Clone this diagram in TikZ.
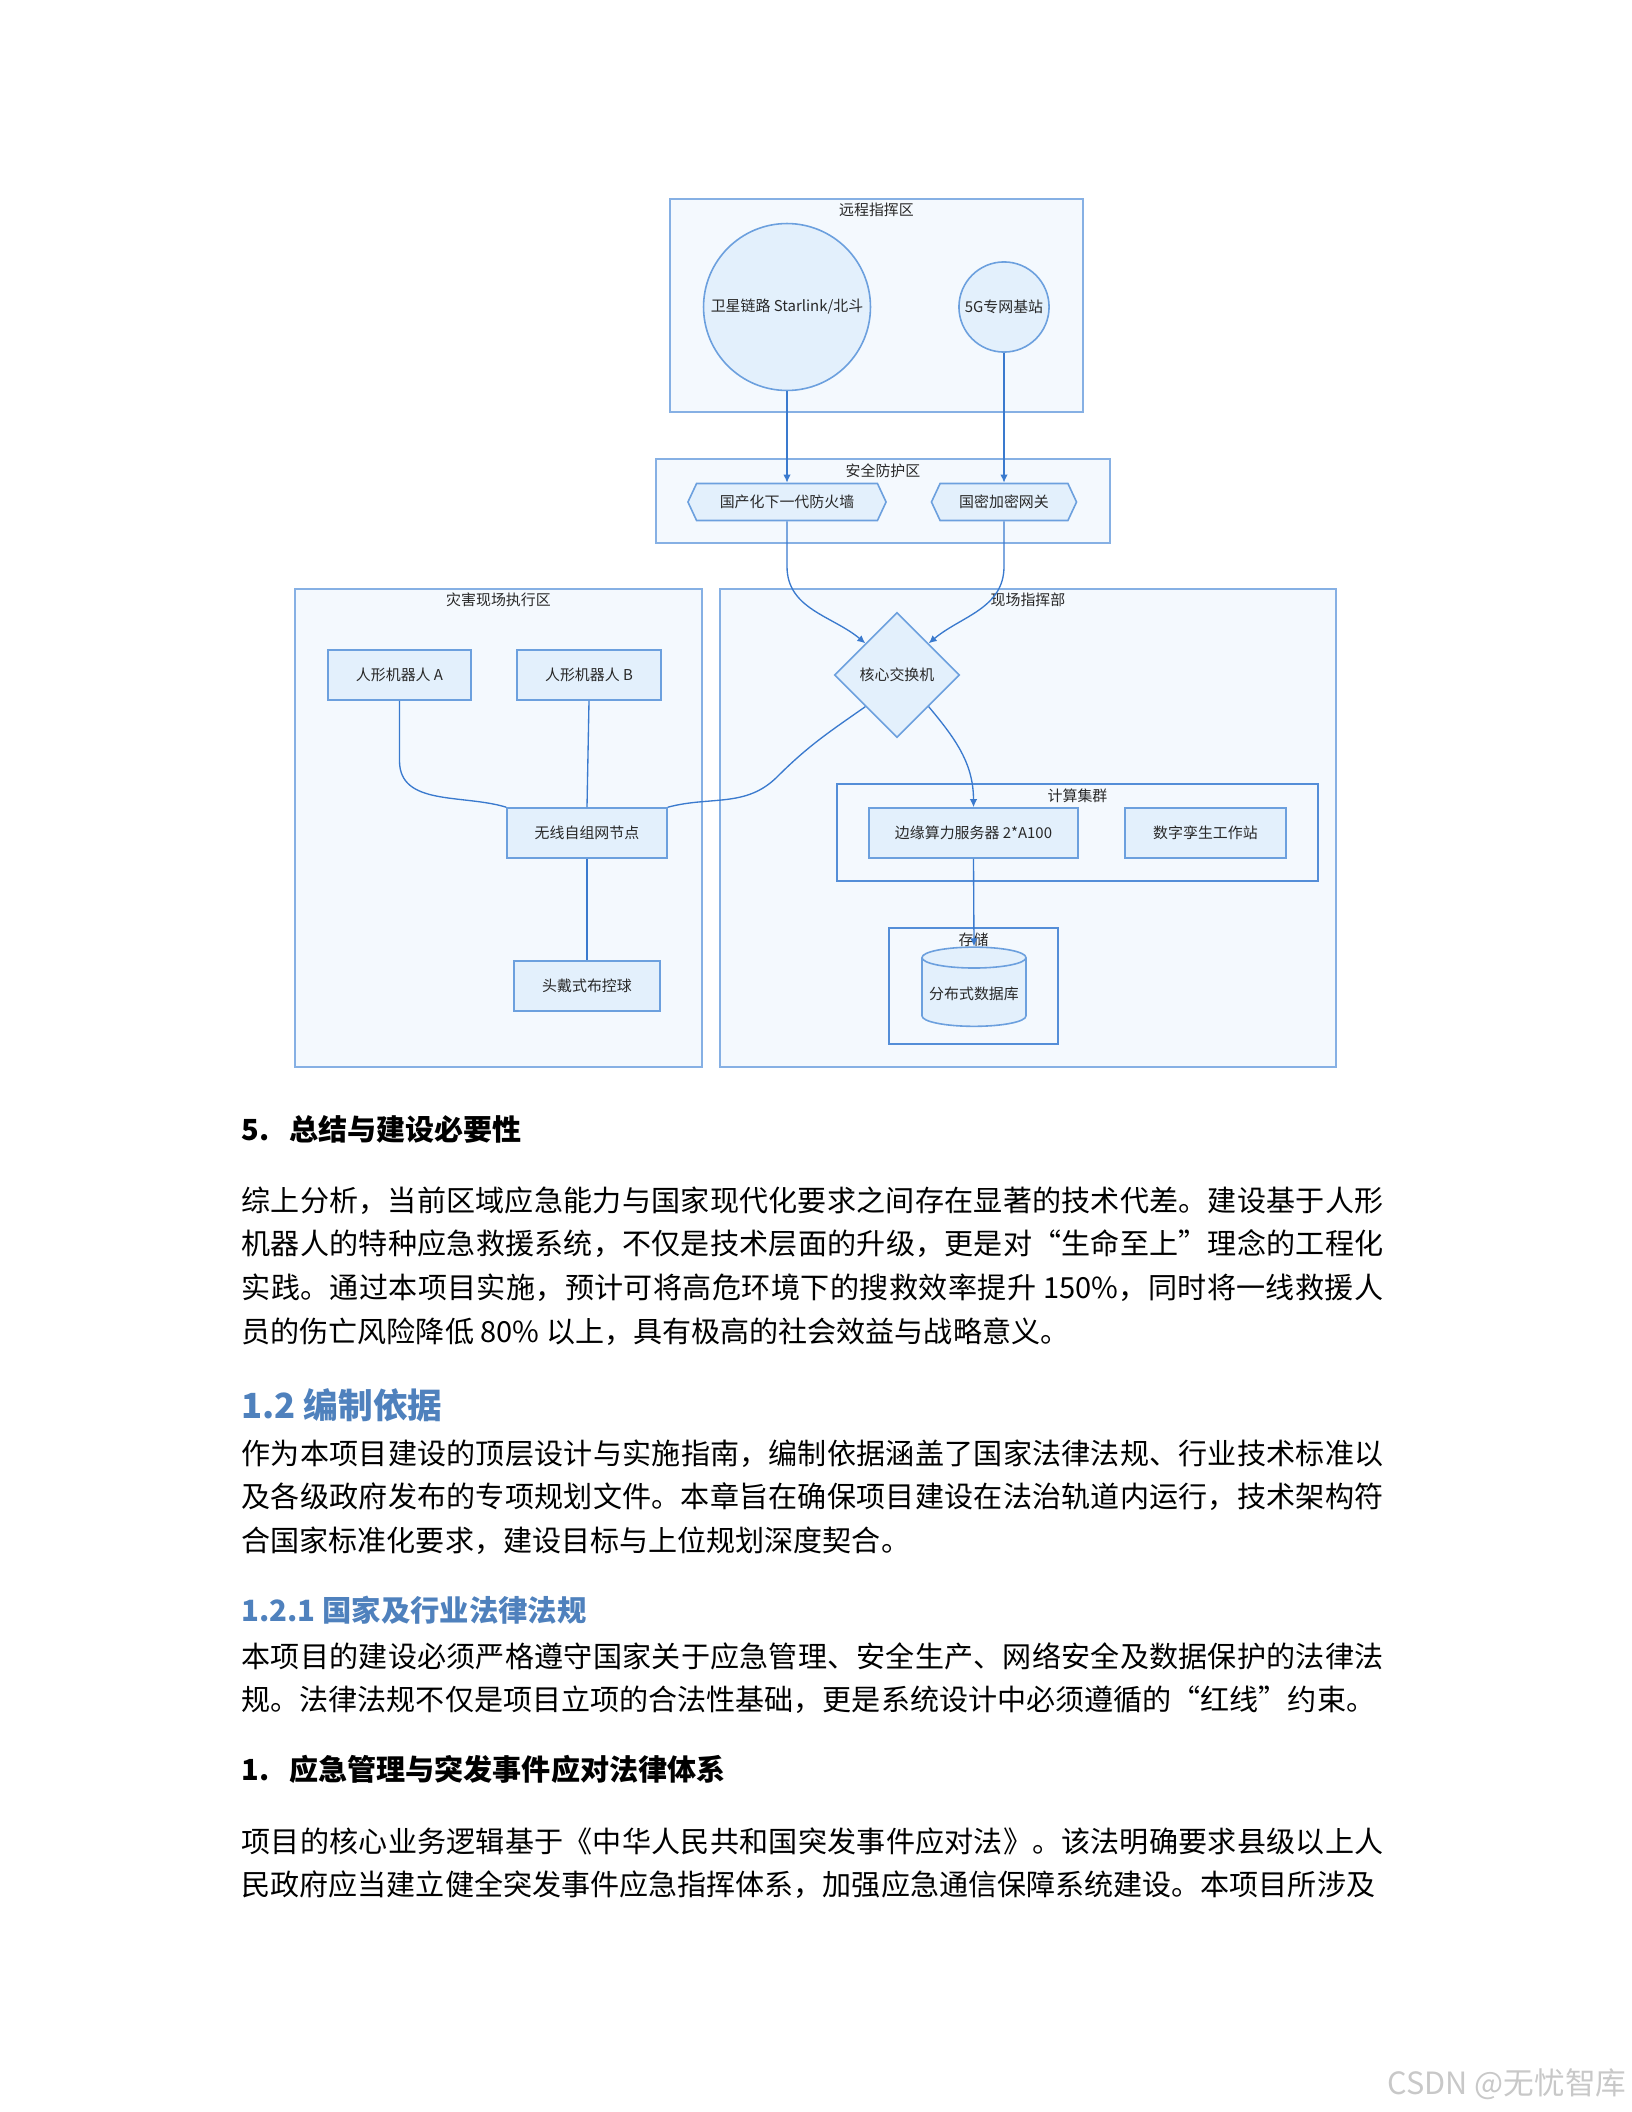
\documentclass[tikz,border=0pt]{standalone}
\usepackage{fontspec}
\setmainfont{Noto Sans CJK SC}
\usetikzlibrary{shapes.geometric,shapes.symbols,arrows.meta,fit}

\definecolor{zoneFill}{RGB}{244,249,254}
\definecolor{zoneLine}{RGB}{134,176,228}
\definecolor{subLine}{RGB}{84,142,216}
\definecolor{boxFill}{RGB}{227,240,252}
\definecolor{boxLine}{RGB}{108,160,222}
\definecolor{linkBlue}{RGB}{58,122,206}
\definecolor{inkGray}{RGB}{40,40,40}
\definecolor{headBlue}{RGB}{79,129,189}
\definecolor{markGray}{RGB}{200,200,200}

\XeTeXlinebreaklocale "zh"
\XeTeXlinebreakskip=0pt plus 1pt

\newcommand{\dgfont}{\fontsize{5.6}{6.8}\selectfont}
\newcommand{\bodyfont}{\fontsize{10.9}{16.4}\selectfont}

\begin{document}
\begin{tikzpicture}[
    x=0.375pt, y=-0.375pt,
    zone/.style={
      rectangle, draw=zoneLine, fill=zoneFill, line width=0.55pt, inner sep=0pt,
      label={[anchor=center, yshift=-4.5pt, font=\dgfont, text=inkGray]north:{#1}}
    },
    sub_zone/.style={zone={#1}, draw=subLine, line width=0.45pt},
    unit/.style={
      rectangle, draw=boxLine, fill=boxFill, line width=0.6pt,
      minimum height=18.75pt, font=\dgfont, text=inkGray, inner sep=1pt
    },
    station/.style={
      circle, draw=boxLine, fill=boxFill, line width=0.6pt,
      font=\dgfont, text=inkGray, inner sep=0pt
    },
    guard/.style={
      signal, signal to=west and east, signal pointer angle=130,
      draw=boxLine, fill=boxFill, line width=0.6pt, minimum height=13.9pt,
      font=\dgfont, text=inkGray, inner sep=1pt
    },
    hub/.style={
      diamond, aspect=1, draw=boxLine, fill=boxFill, line width=0.6pt,
      minimum size=46.9pt, font=\dgfont, text=inkGray, inner sep=0pt
    },
    store/.style={
      cylinder, shape border rotate=90, aspect=0.22, draw=boxLine, fill=boxFill,
      line width=0.6pt, minimum width=39pt, minimum height=29.7pt,
      font=\dgfont, text=inkGray, inner sep=1pt
    },
    link/.style={draw=linkBlue, line width=0.5pt},
    flow/.style={link, -{Latex[length=3pt,width=2.8pt]}},
    heading/.style={anchor=base west, inner sep=0pt, font=\fontsize{10.9}{13}\selectfont\bfseries},
    title_blue/.style={anchor=base west, inner sep=0pt, text=headBlue, font=\fontsize{#1}{#1}\selectfont\bfseries},
    para/.style={anchor=base west, inner sep=0pt, text width=428.25pt, align=justify, font=\bodyfont}
  ]
  \useasboundingbox (0,0) rectangle (1632,2112);

  \node[zone={远程指挥区}, fit={(670,199) (1083,412)}] (remote) {};
  \node[zone={安全防护区}, fit={(656,459) (1110,543)}] (secure) {};
  \node[zone={灾害现场执行区}, fit={(295,589) (702,1067)}] (site) {};
  \node[zone={现场指挥部}, fit={(720,589) (1336,1067)}] (hq) {};
  \node[sub_zone={计算集群}, fit={(837,784) (1318,881)}] (cluster) {};
  \node[sub_zone={存储}, fit={(889,928) (1058,1044)}] (storage) {};

  \node[station, minimum size=62.6pt] (sat) at (787,307) {卫星链路 Starlink/北斗};
  \node[station, minimum size=33.8pt] (bs) at (1004,307) {5G专网基站};
  \node[guard, minimum width=74.3pt] (fw) at (787,502) {国产化下一代防火墙};
  \node[guard, minimum width=54.4pt] (gw) at (1004,502) {国密加密网关};
  \node[unit, minimum width=53.6pt] (robA) at (399.5,675) {人形机器人 A};
  \node[unit, minimum width=54pt] (robB) at (589,675) {人形机器人 B};
  \node[unit, minimum width=60pt] (mesh) at (587,833) {无线自组网节点};
  \node[unit, minimum width=54.8pt] (ball) at (587,986) {头戴式布控球};
  \node[hub] (core) at (897,675) {核心交换机};
  \node[unit, minimum width=78.4pt] (edge) at (973.5,833) {边缘算力服务器 2*A100};
  \node[unit, minimum width=60.4pt] (twin) at (1205.5,833) {数字孪生工作站};
  \node[store] (db) at (974,994) {分布式数据库};

  \draw[flow] (sat.south) -- (fw.north);
  \draw[flow] (bs.south) -- (gw.north);
  \draw[flow] (fw.south) -- ++(0,45) to[out=-90,in=140] (core.north west);
  \draw[flow] (gw.south) -- ++(0,45) to[out=-90,in=40] (core.north east);
  \draw[link] (core.south west) to[out=-145,in=45] ++(-88,70) to[out=-135,in=15] (mesh.north east);
  \draw[flow] (core.south east) to[out=-50,in=90] (edge.north);
  \draw[flow] (edge.south) -- (db.north);
  \draw[link] (robA.south) -- ++(0,60) to[out=-90,in=163] (mesh.north west);
  \draw[link] (robB.south) -- (mesh.north);
  \draw[link] (mesh.south) -- (ball.north);

  \node[heading] (sec5) at (241,1140) {5.\hspace{7.5pt}总结与建设必要性};
  \node[para] (summary) at (241,1211) {综上分析，当前区域应急能力与国家现代化要求之间存在显著的技术代差。建设基于人形\linebreak
机器人的特种应急救援系统，不仅是技术层面的升级，更是对“生命至上”理念的工程化\linebreak
实践。通过本项目实施，预计可将高危环境下的搜救效率提升 150\%，同时将一线救援人\linebreak
员的伤亡风险降低 80\% 以上，具有极高的社会效益与战略意义。};

  \node[title_blue=13] (basis) at (241,1418) {1.2 编制依据};
  \node[para] (basis_text) at (241,1464) {作为本项目建设的顶层设计与实施指南，编制依据涵盖了国家法律法规、行业技术标准以\linebreak
及各级政府发布的专项规划文件。本章旨在确保项目建设在法治轨道内运行，技术架构符\linebreak
合国家标准化要求，建设目标与上位规划深度契合。};

  \node[title_blue=11] (laws) at (241,1621) {1.2.1 国家及行业法律法规};
  \node[para] (laws_text) at (241,1667) {本项目的建设必须严格遵守国家关于应急管理、安全生产、网络安全及数据保护的法律法\linebreak
规。法律法规不仅是项目立项的合法性基础，更是系统设计中必须遵循的“红线”约束。};

  \node[heading] (law1) at (241,1780) {1.\hspace{7.5pt}应急管理与突发事件应对法律体系};
  \node[para] (law1_text) at (241,1852) {\parfillskip=0pt 项目的核心业务逻辑基于《中华人民共和国突发事件应对法》。该法明确要求县级以上人\linebreak
民政府应当建立健全突发事件应急指挥体系，加强应急通信保障系统建设。本项目所涉及};

  \node[anchor=base east, inner sep=0pt, text=markGray, font=\fontsize{11.5}{12}\selectfont] (mark) at (1627,2094) {CSDN @无忧智库};
\end{tikzpicture}
\end{document}
